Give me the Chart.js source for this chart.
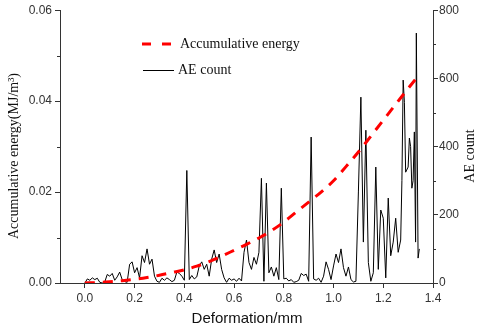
<!DOCTYPE html>
<html>
<head>
<meta charset="utf-8">
<script src="https://cdn.jsdelivr.net/npm/chart.js@4"></script>
<style>
  html, body { margin: 0; padding: 0; background: #fff; }
</style>
</head>
<body>
<canvas id="chart" width="480" height="329"></canvas>
<script>
'use strict';

// accumulative energy (MJ/m3) vs deformation (mm)
var energyDeform = [0, 0.05, 0.1, 0.15, 0.2, 0.25, 0.3, 0.35, 0.4, 0.45, 0.5, 0.55, 0.6, 0.65,
    0.7, 0.75, 0.8, 0.85, 0.9, 0.95, 1.0, 1.05, 1.1, 1.15, 1.2, 1.25, 1.3, 1.34];
var energyValues = [0, 0.0001, 0.0003, 0.0005, 0.0008, 0.0012, 0.0017, 0.0023, 0.0029, 0.0037,
    0.0047, 0.0059, 0.0072, 0.0085, 0.0099, 0.0115, 0.0134, 0.0156, 0.0178, 0.0200, 0.0225,
    0.0256, 0.0288, 0.0323, 0.0358, 0.0393, 0.0428, 0.0455];

// AE count vs deformation (mm)
var aeDeform = [0.00, 0.01, 0.02, 0.03, 0.04, 0.05, 0.06, 0.07, 0.08, 0.09,
    0.10, 0.11, 0.12, 0.13, 0.14, 0.15, 0.16, 0.17, 0.18, 0.19,
    0.20, 0.21, 0.22, 0.23, 0.24, 0.25, 0.26, 0.27, 0.28, 0.29,
    0.30, 0.31, 0.32, 0.33, 0.34, 0.35, 0.36, 0.37, 0.38, 0.39,
    0.40, 0.41, 0.42, 0.43, 0.44, 0.45, 0.46, 0.47, 0.48, 0.49,
    0.50, 0.51, 0.52, 0.53, 0.54, 0.55, 0.56, 0.57, 0.58, 0.59,
    0.60, 0.61, 0.62, 0.63, 0.64, 0.65, 0.66, 0.67, 0.68, 0.69,
    0.70, 0.71, 0.72, 0.73, 0.74, 0.75, 0.76, 0.77, 0.78, 0.79,
    0.80, 0.81, 0.82, 0.83, 0.84, 0.85, 0.86, 0.87, 0.88, 0.89,
    0.90, 0.91, 0.92, 0.93, 0.94, 0.95, 0.96, 0.97, 0.98, 0.99,
    1.00, 1.01, 1.02, 1.03, 1.04, 1.05, 1.06, 1.07, 1.08, 1.09,
    1.10, 1.11, 1.12, 1.13, 1.14, 1.15, 1.16, 1.17, 1.18, 1.19,
    1.20, 1.21, 1.22, 1.23, 1.24, 1.25, 1.26, 1.27,
    1.275, 1.28, 1.285, 1.29, 1.30, 1.305, 1.31, 1.315, 1.32, 1.325, 1.33, 1.333, 1.34, 1.345];
var aeCount = [0, 12, 8, 15, 10, 14, 2, 0, 3, 25,
    20, 28, 8, 18, 32, 10, 4, 2, 55, 62,
    30, 45, 15, 80, 60, 100, 55, 70, 20, 5,
    2, 14, 8, 15, 10, 4, 8, 32, 28, 20,
    8, 330, 10, 22, 12, 18, 50, 62, 40, 55,
    20, 70, 97, 60, 85, 40, 15, 2, 14, 8,
    12, 5, 14, 6, 90, 126, 60, 40, 75, 55,
    90, 307, 5, 293, 30, 47, 20, 45, 10, 278,
    12, 14, 6, 10, 2, 4, 8, 28, 22, 26,
    5, 428, 12, 8, 14, 2, 20, 62, 40, 10,
    50, 85, 60, 100, 45, 20, 47, 10, 3, 5,
    267, 545, 120, 448, 60, 5, 30, 340, 40, 214,
    190, 15, 249, 80, 120, 190, 90, 126,
    300, 595, 530, 325, 340, 425, 400, 278, 300, 443, 120, 733, 73, 100];

var xTicks = [0, 0.2, 0.4, 0.6, 0.8, 1.0, 1.2, 1.4];
var leftTicks = [0, 0.02, 0.04, 0.06];
var leftMinor = [0.01, 0.03, 0.05];
var rightTicks = [0, 200, 400, 600, 800];
var rightMinor = [100, 300, 500, 700];

var axisColor = '#333';
var tickFont = { family: '"Liberation Sans", Arial, sans-serif', size: 12 };
var serif = '"Liberation Serif", "Times New Roman", serif';

function pairs(xs, ys) {
    return xs.map(function (x, i) { return { x: x, y: ys[i] }; });
}

function fixedTicks(list) {
    return function (scale) {
        scale.ticks = list.map(function (v) { return { value: v }; });
    };
}

var extras = {
    id: 'extras',
    afterDraw: function (chart) {
        var ctx = chart.ctx;
        var area = chart.chartArea;
        var yl = chart.scales.y, yr = chart.scales.y1;
        ctx.save();
        // minor ticks
        ctx.strokeStyle = axisColor;
        ctx.lineWidth = 1;
        ctx.beginPath();
        leftMinor.forEach(function (v) {
            var py = Math.round(yl.getPixelForValue(v)) + 0.5;
            ctx.moveTo(area.left - 3, py);
            ctx.lineTo(area.left, py);
        });
        rightMinor.forEach(function (v) {
            var py = Math.round(yr.getPixelForValue(v)) + 0.5;
            ctx.moveTo(area.right, py);
            ctx.lineTo(area.right + 3, py);
        });
        ctx.stroke();

        // axis titles
        ctx.fillStyle = '#111';
        ctx.textAlign = 'center';
        ctx.textBaseline = 'middle';
        ctx.font = '14px ' + serif;
        ctx.save();
        ctx.translate(14, 156);
        ctx.rotate(-Math.PI / 2);
        ctx.fillText('Accumulative energy(MJ/m\u00B3)', 0, 0);
        ctx.restore();
        ctx.save();
        ctx.translate(470, 156);
        ctx.rotate(-Math.PI / 2);
        ctx.fillText('AE count', 0, 0);
        ctx.restore();
        ctx.font = '15px "Liberation Sans", Arial, sans-serif';
        ctx.fillText('Deformation/mm', 247, 319);

        // legend
        ctx.textAlign = 'left';
        ctx.font = '14px ' + serif;
        ctx.strokeStyle = '#ff0000';
        ctx.lineWidth = 3;
        ctx.setLineDash([9, 11]);
        ctx.beginPath();
        ctx.moveTo(142, 44);
        ctx.lineTo(174, 44);
        ctx.stroke();
        ctx.setLineDash([]);
        ctx.fillText('Accumulative energy', 180, 44);
        ctx.strokeStyle = '#000';
        ctx.lineWidth = 1;
        ctx.beginPath();
        ctx.moveTo(143, 70.5);
        ctx.lineTo(174, 70.5);
        ctx.stroke();
        ctx.fillText('AE count', 178, 70);
        ctx.restore();
    }
};

var ctx = document.getElementById('chart').getContext('2d');
var myChart = new Chart(ctx, {
    type: 'line',
    data: {
        datasets: [{
            label: 'Accumulative energy',
            data: pairs(energyDeform, energyValues),
            yAxisID: 'y',
            borderColor: '#ff0000',
            borderWidth: 3,
            borderDash: [10, 8],
            pointRadius: 0,
            cubicInterpolationMode: 'monotone',
            fill: false
        }, {
            label: 'AE count',
            data: pairs(aeDeform, aeCount),
            yAxisID: 'y1',
            borderColor: '#000',
            borderWidth: 1,
            pointRadius: 0,
            tension: 0,
            fill: false
        }]
    },
    options: {
        responsive: false,
        animation: false,
        devicePixelRatio: 1,
        layout: { padding: { top: 10, left: 0, right: 0, bottom: 0 } },
        plugins: { legend: { display: false }, tooltip: { enabled: false } },
        scales: {
            x: {
                type: 'linear',
                min: -0.1,
                max: 1.4,
                afterBuildTicks: fixedTicks(xTicks),
                afterFit: function (s) { s.height = 46; },
                ticks: {
                    callback: function (v) { return v.toFixed(1); },
                    font: tickFont, color: axisColor, padding: 3,
                    maxRotation: 0, autoSkip: false
                },
                grid: { drawOnChartArea: false, tickLength: 5, tickColor: axisColor },
                border: { color: axisColor, width: 1 }
            },
            y: {
                position: 'left',
                min: 0,
                max: 0.06,
                afterBuildTicks: fixedTicks(leftTicks),
                afterFit: function (s) { s.width = 60; },
                ticks: {
                    callback: function (v) { return v.toFixed(2); },
                    font: tickFont, color: axisColor, padding: 3
                },
                grid: { drawOnChartArea: false, tickLength: 5, tickColor: axisColor },
                border: { color: axisColor, width: 1 }
            },
            y1: {
                position: 'right',
                min: 0,
                max: 800,
                afterBuildTicks: fixedTicks(rightTicks),
                afterFit: function (s) { s.width = 47; },
                ticks: {
                    callback: function (v) { return String(v); },
                    font: tickFont, color: axisColor, padding: 1
                },
                grid: { drawOnChartArea: false, tickLength: 5, tickColor: axisColor },
                border: { color: axisColor, width: 1 }
            }
        }
    },
    plugins: [extras]
});
</script>
</body>
</html>
